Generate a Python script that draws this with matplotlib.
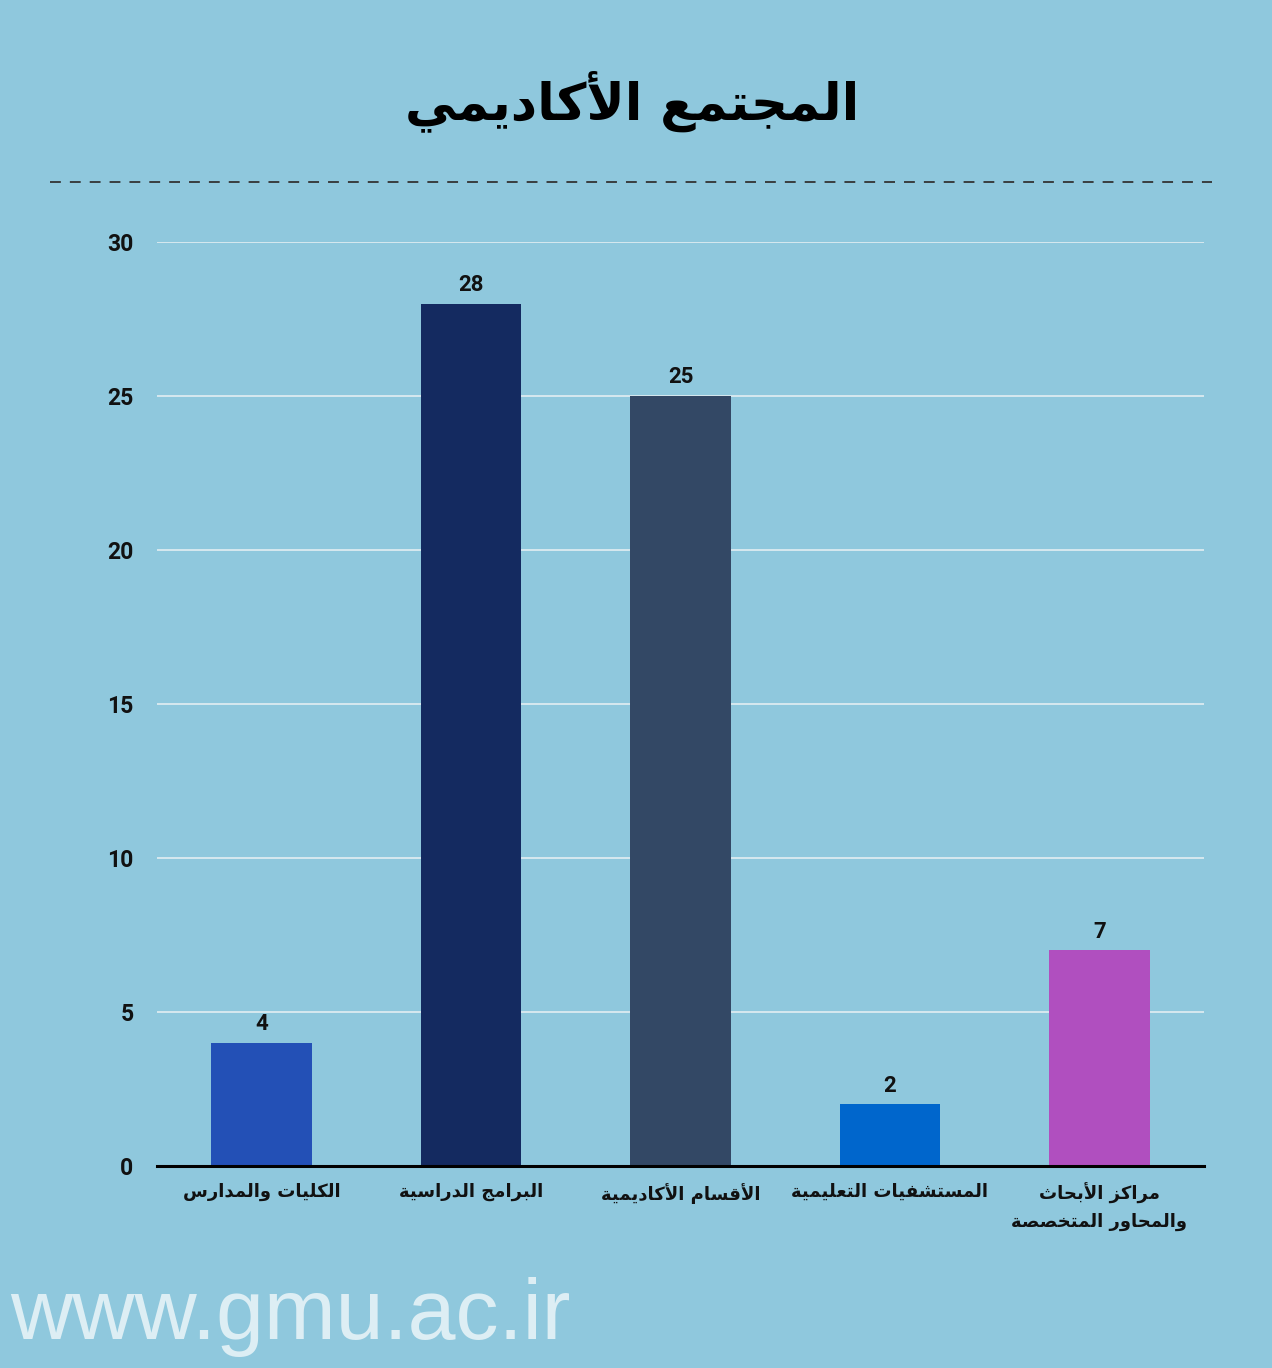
import matplotlib
matplotlib.use("Agg")
import matplotlib.pyplot as plt
from matplotlib.lines import Line2D

# ---------------- data ----------------
title = "المجتمع الأكاديمي"
categories = [
    "الكليات والمدارس",
    "البرامج الدراسية",
    "الأقسام الأكاديمية",
    "المستشفيات التعليمية",
    "مراكز الأبحاث\nوالمحاور المتخصصة",
]
values = [4, 28, 25, 2, 7]
bar_colors = ["#2350B6", "#142A60", "#334865", "#0066CC", "#B04FBF"]
y_ticks = [0, 5, 10, 15, 20, 25, 30]
watermark = "www.gmu.ac.ir"

# ---------------- minimal Arabic shaping ----------------
FORMS = {
    "ا": ("\uFE8D", "\uFE8E", None, None),
    "أ": ("\uFE83", "\uFE84", None, None),
    "ب": ("\uFE8F", "\uFE90", "\uFE91", "\uFE92"),
    "ة": ("\uFE93", "\uFE94", None, None),
    "ت": ("\uFE95", "\uFE96", "\uFE97", "\uFE98"),
    "ث": ("\uFE99", "\uFE9A", "\uFE9B", "\uFE9C"),
    "ج": ("\uFE9D", "\uFE9E", "\uFE9F", "\uFEA0"),
    "ح": ("\uFEA1", "\uFEA2", "\uFEA3", "\uFEA4"),
    "خ": ("\uFEA5", "\uFEA6", "\uFEA7", "\uFEA8"),
    "د": ("\uFEA9", "\uFEAA", None, None),
    "ر": ("\uFEAD", "\uFEAE", None, None),
    "ز": ("\uFEAF", "\uFEB0", None, None),
    "س": ("\uFEB1", "\uFEB2", "\uFEB3", "\uFEB4"),
    "ش": ("\uFEB5", "\uFEB6", "\uFEB7", "\uFEB8"),
    "ص": ("\uFEB9", "\uFEBA", "\uFEBB", "\uFEBC"),
    "ع": ("\uFEC9", "\uFECA", "\uFECB", "\uFECC"),
    "ف": ("\uFED1", "\uFED2", "\uFED3", "\uFED4"),
    "ق": ("\uFED5", "\uFED6", "\uFED7", "\uFED8"),
    "ك": ("\uFED9", "\uFEDA", "\uFEDB", "\uFEDC"),
    "ل": ("\uFEDD", "\uFEDE", "\uFEDF", "\uFEE0"),
    "م": ("\uFEE1", "\uFEE2", "\uFEE3", "\uFEE4"),
    "ي": ("\uFEF1", "\uFEF2", "\uFEF3", "\uFEF4"),
    "و": ("\uFEED", "\uFEEE", None, None),
}
LAM_ALEF = {"ا": ("\uFEFB", "\uFEFC"), "أ": ("\uFEF7", "\uFEF8")}


def shape_line(s):
    toks = []
    i = 0
    while i < len(s):
        c = s[i]
        if c == "ل" and i + 1 < len(s) and s[i + 1] in LAM_ALEF:
            toks.append(("LA", s[i + 1]))
            i += 2
        else:
            toks.append(("C", c))
            i += 1

    def joins_forward(t):
        if t[0] == "LA":
            return False
        f = FORMS.get(t[1])
        return f is not None and f[2] is not None

    def joining(t):
        return t[0] == "LA" or t[1] in FORMS

    out = []
    for k, t in enumerate(toks):
        prev_j = k > 0 and joins_forward(toks[k - 1]) and joining(t)
        if t[0] == "LA":
            iso, fin = LAM_ALEF[t[1]]
            out.append(fin if prev_j else iso)
            continue
        c = t[1]
        if c not in FORMS:
            out.append(c)
            continue
        f = FORMS[c]
        next_j = (f[2] is not None and k + 1 < len(toks) and joining(toks[k + 1]))
        if prev_j and next_j:
            out.append(f[3])
        elif prev_j:
            out.append(f[1])
        elif next_j:
            out.append(f[2])
        else:
            out.append(f[0])
    return "".join(out)[::-1]


def shape(s):
    return "\n".join(shape_line(l) for l in s.split("\n"))


# ---------------- figure ----------------
BG = "#8FC8DD"
fig = plt.figure(figsize=(12.72, 13.68), dpi=100, facecolor=BG)
ax = fig.add_axes([157 / 1272, 1 - 1166 / 1368, (1204 - 157) / 1272, (1166 - 242) / 1368])
ax.set_facecolor(BG)

x = list(range(len(categories)))
ax.bar(x, values, width=0.48, color=bar_colors, zorder=3)

ax.set_xlim(-0.5, len(categories) - 0.5)
ax.set_ylim(0, 30)
ax.set_yticks(y_ticks)
ax.set_yticklabels([str(v) for v in y_ticks], fontfamily="Roboto", fontweight="bold",
                   fontsize=16.5, color="#111111")
ax.set_xticks(x)
ax.set_xticklabels([shape(c) for c in categories], fontfamily="DejaVu Sans",
                   fontweight="bold", fontsize=13, color="#111111",
                   linespacing=1.65, va="top")
ax.tick_params(axis="both", length=0)
ax.tick_params(axis="y", pad=17)
ax.tick_params(axis="x", pad=12)

for s in ["top", "right", "left"]:
    ax.spines[s].set_visible(False)
ax.spines["bottom"].set_color("#000000")
ax.spines["bottom"].set_linewidth(2.2)
ax.spines["bottom"].set_zorder(4)

ax.yaxis.grid(True, color="#DCEBF0", linewidth=1.3, zorder=0)
ax.set_axisbelow(True)

for xi, v in zip(x, values):
    ax.annotate(str(v), (xi, v), xytext=(0, 5.5), textcoords="offset points",
                ha="center", va="bottom", fontfamily="Roboto", fontweight="bold",
                fontsize=16, color="#111111")

# title
fig.text(0.497, 0.926, shape(title), ha="center", va="center",
         fontfamily="DejaVu Sans", fontweight="bold", fontsize=37, color="#000000")

# dashed separator
fig.add_artist(Line2D([50 / 1272, 1212 / 1272], [1 - 182 / 1368, 1 - 182 / 1368],
                      transform=fig.transFigure, color="#333333", linewidth=1.3,
                      linestyle=(0, (6, 5))))

# watermark
fig.text(10 / 1272, 1 - 1339 / 1368, watermark, ha="left", va="baseline",
         fontfamily="Liberation Sans", fontsize=62, color="#DDEEF4")

fig.savefig("out.png", dpi=100, facecolor=BG)
